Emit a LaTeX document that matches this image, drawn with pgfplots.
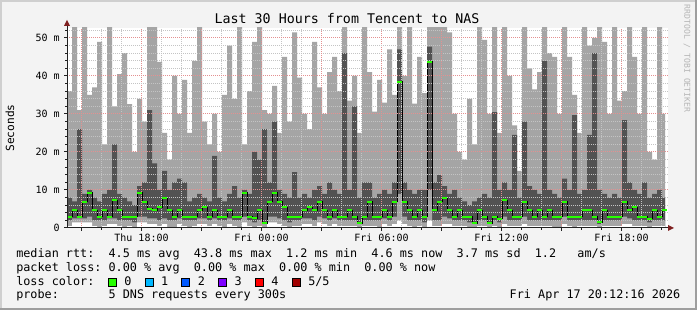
\documentclass[border=0pt]{standalone}
\usepackage{pgfplots}
\pgfplotsset{compat=1.18}
\usepackage{pgfplotstable}
\usepackage{fontspec}
\setmainfont{DejaVu Sans Mono}
\setmonofont{DejaVu Sans Mono}
\definecolor{canvas}{HTML}{F3F3F3}
\definecolor{shadea}{HTML}{CFCFCF}
\definecolor{shadeb}{HTML}{9E9E9E}
\definecolor{lsmoke}{HTML}{A5A5A5}
\definecolor{dsmoke}{HTML}{525252}
\definecolor{medgreen}{HTML}{26FF00}
\definecolor{mgrid}{HTML}{E49090}
\definecolor{ngrid}{HTML}{C4C4C4}
\definecolor{arrowred}{HTML}{7F1F1F}
\definecolor{axiscol}{HTML}{212121}
\definecolor{wmark}{HTML}{B5B5B5}
\definecolor{lc0}{HTML}{26FF00}
\definecolor{lc1}{HTML}{00B8FF}
\definecolor{lc2}{HTML}{0059FF}
\definecolor{lc3}{HTML}{7E00FF}
\definecolor{lc4}{HTML}{FF0000}
\definecolor{lc5}{HTML}{A00000}

\pgfplotstableread{
x lo dlo dhi hi med
0 0.5 2 8 36 3
5 1.5 2.5 7 53 4.7
10 1.5 2.5 26 31 3
15 1.5 2.5 9 53 6.9
20 1.5 3 10 35 9.3
25 0.5 2 8 37 4.7
30 0 2 7 49 3
35 0.5 2 9 22 4.7
40 1 2.5 10 53 3
45 1 2.5 22 32 7.3
50 0.5 2 9 40.5 4.7
55 0 2 8 46 3
60 0.5 2 7 32.6 3
65 0 1.5 6 20 3
70 1.5 3 11 34 9.3
75 1.5 3 12 28 6.9
80 1 2.5 31 53 5
85 1 2.5 17 53 4.7
90 0.5 2 10 43.7 5.4
95 1 2.5 15 25 8
100 0 2 10 18 4.7
105 0 2 12 40 3
110 1 2.5 13 30 4.7
115 0.5 2 12 39 3
120 0 2 7 25 3
125 0.5 2 8 44 3
130 1 2.5 9 53 4.7
135 1 2.5 8 28 5.4
140 0.5 2 7 22 3
145 1 2.5 19 30 4.7
150 0.5 2 8 20 3
155 0 2 7 35 3
160 1 2.5 9 48 4.7
165 0.5 2 11 34 3
170 0 2 8 53 3
175 1.5 3 10 22 9.3
180 0.5 2 9 36 3
185 0 1.5 20 49 2.5
190 0.5 2 18 53 4.7
195 0 1 26 31 1.2
200 1.5 3 12 30 6.9
205 1.5 3 28 37.4 9.3
210 1 2.5 10 25 6.9
215 0.5 2 9 45 5.4
220 0 1.5 8 28 3
225 0.5 2 14.7 51.5 3
230 0.5 2 8 39.6 3
235 1 2.5 9 30 4.7
240 1 2.5 8 26 5.4
245 0.5 2 10 49 4.7
250 1.5 3 11 37 6.9
255 1 2.5 9 30 4.7
260 0.5 2 12 41 3
265 1 2.5 10 45 4.7
270 0.5 2 9 36 3
275 0.5 2 46 53 3
280 0.5 2 10 33.5 4.7
285 0.5 2 32 40 3
290 0 1 8 25 1.2
295 0.5 2 12 53 3
300 0.5 2 12 41 6.9
305 0.5 2 8 30.6 3
310 0 2 9 39 3
315 1 2.5 10 33 4.7
320 0.5 2 9 47 3
325 1 3 12 35 6.9
330 2 9 47 53 38.5
335 1 3 12 40 6.9
340 0.5 2 10 53 4.7
345 0 2 9 32.7 3
350 0.5 2 10 45 4.7
355 0 1.5 10 35.5 3
360 2 10 47.7 53 43.7
365 0.5 2 12 53 4.7
370 0.5 2 13.9 53 6.9
375 1 3 11 53 8
380 1 2.5 9 51.5 4.7
385 0.5 2 10 30 3
390 0.5 2 8 20 4.7
395 0.5 2 7 18 3
400 0 1.5 6 34 3
405 0 1 7 22 1.2
410 0.5 2 8 53 4.7
415 0.5 2 9 49.5 3
420 0 1 8 30 1.2
425 0.5 2 30.5 53 3
430 0 1.5 10 25 2.4
435 1 3 12 53 7.3
440 0.5 2 10 40 4.7
445 0.5 2 24.5 27 3
450 0.5 2 8 15 3
455 1 3 28 53 6.9
460 0.5 2 11 42 4.7
465 0.5 2 10 36.5 3
470 0.5 2 9 41 4.7
475 0.5 2 44 53 3
480 0.5 2 10 46 4.7
485 0 2 9 45 3
490 0 2 8 30 3
495 1 3 13 53 6.9
500 0.5 2 10 45 3
505 0 2 29.7 35 3
510 0.5 2 9 25 3
515 0.5 2 10 53 4.7
520 0.5 2 24.5 48 4.7
525 0.5 2 46 50 3
530 0 1 10 53 1.5
535 0.5 2 9 49 4.7
540 0.5 2 8 30 3
545 0.5 2 9 53 3
550 0.5 2 8 33.5 3
555 1 3 28.4 36 6.9
560 1 2.5 12 53 4.7
565 0.5 2 10 45 5.4
570 0.5 2 9 30 3
575 0.5 2 12 53 3
580 0 1.5 8 20 2.4
585 0.5 2 9 18 4.7
590 0.5 2 10 53 3
595 0.5 2 8 30 4.7
598 0.5 2 8 30 4.7
}\smoke

\begin{document}
\begin{tikzpicture}[x=0.75pt,y=0.75pt]
% canvas and 3D border
\fill[canvas] (0,0) rectangle (697,310);
\fill[shadea] (0,0) rectangle (2,310);
\fill[shadea] (0,308) rectangle (697,310);
\fill[shadeb] (0,0) rectangle (697,2);
\fill[shadeb] (695,0) rectangle (697,310);

\begin{axis}[
  at={(50.25pt,61.5pt)}, anchor=south west,
  scale only axis, width=450.75pt, height=150pt,
  xmin=0, xmax=601, ymin=0, ymax=52.63,
  axis line style={draw=none},
  axis background/.style={fill=white},
  axis on top,
  xtick={74.5,194.5,314.5,434.5,554.5},
  xticklabels={Thu 18:00,Fri 00:00,Fri 06:00,Fri 12:00,Fri 18:00},
  extra x ticks={14.5,134.5,254.5,374.5,494.5},
  extra x tick labels={},
  extra x tick style={grid=major},
  minor xtick={14.5,34.5,...,594.5},
  ytick={0,10,20,30,40,50},
  yticklabels={0,10 m,20 m,30 m,40 m,50 m},
  minor ytick={2,4,...,52},
  grid=both,
  major grid style={draw=mgrid, line width=0.75pt, dash pattern=on 0.75pt off 0.75pt},
  minor grid style={draw=ngrid, line width=0.75pt, dash pattern=on 0.75pt off 0.75pt},
  tick pos=left, tick align=outside,
  major tick length=2.25pt, minor tick length=1.5pt,
  tick style={draw=axiscol, line width=0.75pt},
  tick label style={font=\fontsize{7.5}{8}\selectfont\ttfamily, text=black},
  xticklabel style={anchor=north, inner sep=0pt, yshift=-2.2pt},
  yticklabel style={anchor=east, inner sep=0pt, xshift=-3pt},
]
\addplot[const plot, fill=lsmoke, draw=none] table[x=x, y=hi] {\smoke} \closedcycle;
\addplot[const plot, fill=dsmoke, draw=none] table[x=x, y=dhi] {\smoke} \closedcycle;
\addplot[const plot, fill=lsmoke, draw=none] table[x=x, y=dlo] {\smoke} \closedcycle;
\addplot[const plot, fill=white, draw=none] table[x=x, y=lo] {\smoke} \closedcycle;
\addplot[const plot, draw=black, line width=0.75pt] table[x=x, y=med] {\smoke};
\addplot[only marks, mark=-, mark size=1.875pt,
  mark options={draw=medgreen, line width=1.5pt},
  skip coords between index={120}{121}]
  table[x expr=\thisrow{x}+2.5, y=med] {\smoke};
\end{axis}

% axes with arrows
\draw[axiscol, line width=0.75pt] (67,82) -- (668,82);
\fill[arrowred] (668,79) -- (674,82) -- (668,85) -- cycle;
\draw[axiscol, line width=0.75pt] (67,82) -- (67,284);
\fill[arrowred] (64,284) -- (67,290) -- (70,284) -- cycle;

% title, axis label, watermark
\node[anchor=base, inner sep=0pt, font=\fontsize{10}{12}\selectfont\ttfamily] at (347,286) {Last 30 Hours from Tencent to NAS};
\node[rotate=90, inner sep=0pt, font=\fontsize{8.4}{10}\selectfont\ttfamily] at (10,182) {Seconds};
\node[rotate=-90, inner sep=0pt, text=wmark, font=\fontsize{6.1}{7}\selectfont\ttfamily] at (687,251.5) {RRDTOOL / TOBI OETIKER};

% legend
\begin{scope}[every node/.style={anchor=base west, inner sep=0pt, font=\fontsize{8.85}{10}\selectfont\ttfamily}]
\node at (16,52) {median rtt:\ \ 4.5 ms avg\ \ 43.8 ms max\ \ 1.2 ms min\ \ 4.6 ms now\ \ 3.7 ms sd\ \ 1.2\ \ \ am/s};
\node at (16,38) {packet loss: 0.00 \% avg\ \ 0.00 \% max\ \ 0.00 \% min\ \ 0.00 \% now};
\node at (16,24.5) {loss color:};
\node at (16,11) {probe:\ \ \ \ \ \ \ 5 DNS requests every 300s};
\node[anchor=base east] at (680.5,11) {Fri Apr 17 20:12:16 2026};
\foreach \c/\lab [count=\i from 0] in {lc0/0,lc1/1,lc2/2,lc3/3,lc4/4,lc5/5\slash 5}{
  \pgfmathsetmacro{\bx}{108.3+36.8*\i}
  \filldraw[fill=\c, draw=black, line width=0.75pt] (\bx,23.7) rectangle ++(8,8);
  \node at ({\bx+15.7},24.5) {\lab};
}
\end{scope}
\end{tikzpicture}
\end{document}
